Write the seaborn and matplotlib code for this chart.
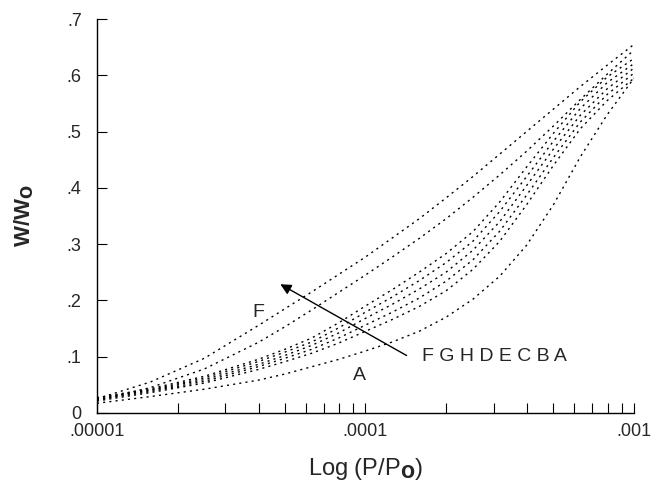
import numpy as np
import pandas as pd
import matplotlib
matplotlib.use('Agg')
import matplotlib.pyplot as plt
import seaborn as sns

# 数据, x 为 P/Po 的对数坐标
log_p = [-5.0, -4.8, -4.6, -4.4, -4.3, -4.2, -4.1, -4.0, -3.9,
         -3.8, -3.7, -3.6, -3.5, -3.4, -3.3, -3.2, -3.1, -3.0]
curve_F = [0.025, 0.055, 0.097, 0.155, 0.185, 0.215, 0.246, 0.277, 0.311,
           0.345, 0.382, 0.420, 0.460, 0.500, 0.540, 0.580, 0.618, 0.655]
curve_G = [0.022, 0.045, 0.078, 0.125, 0.153, 0.183, 0.214, 0.245, 0.277,
           0.310, 0.345, 0.383, 0.423, 0.465, 0.510, 0.557, 0.602, 0.645]
curve_H = [0.027, 0.043, 0.065, 0.095, 0.113, 0.133, 0.160, 0.190, 0.219,
           0.250, 0.283, 0.322, 0.375, 0.437, 0.497, 0.553, 0.597, 0.630]
curve_D = [0.026, 0.041, 0.062, 0.091, 0.108, 0.126, 0.151, 0.179, 0.206,
           0.235, 0.267, 0.305, 0.358, 0.420, 0.483, 0.541, 0.587, 0.621]
curve_E = [0.024, 0.040, 0.059, 0.086, 0.102, 0.120, 0.142, 0.168, 0.193,
           0.220, 0.250, 0.289, 0.340, 0.404, 0.469, 0.529, 0.576, 0.613]
curve_C = [0.023, 0.038, 0.056, 0.082, 0.097, 0.113, 0.133, 0.156, 0.179,
           0.204, 0.234, 0.272, 0.323, 0.387, 0.454, 0.517, 0.566, 0.604]
curve_B = [0.021, 0.036, 0.053, 0.077, 0.091, 0.106, 0.124, 0.145, 0.166,
           0.189, 0.217, 0.255, 0.305, 0.370, 0.440, 0.505, 0.555, 0.595]
curve_A = [0.017, 0.029, 0.042, 0.058, 0.069, 0.082, 0.095, 0.110, 0.126,
           0.145, 0.170, 0.202, 0.243, 0.298, 0.370, 0.455, 0.530, 0.595]
curve_names = ['F', 'G', 'H', 'D', 'E', 'C', 'B', 'A']
y_ticks = [0, 0.1, 0.2, 0.3, 0.4, 0.5, 0.6, 0.7]
y_tick_labels = ['0', '.1', '.2', '.3', '.4', '.5', '.6', '.7']
x_ticks = [1e-5, 1e-4, 1e-3]
x_tick_labels = ['.00001', '.0001', '.001']

sns.set_style('ticks')
plt.rcParams['font.family'] = ['Liberation Sans', 'DejaVu Sans']
plt.rcParams['mathtext.default'] = 'regular'

# 整理成长表
p_ratio = [10 ** v for v in log_p]
all_curves = [curve_F, curve_G, curve_H, curve_D, curve_E, curve_C, curve_B, curve_A]
df = pd.concat([pd.DataFrame({'p': p_ratio, 'w': vals, 'curve': name})
                for name, vals in zip(curve_names, all_curves)], ignore_index=True)

fig = plt.figure(figsize=(6.55, 4.88), dpi=100)
ax = fig.add_axes([0.148, 0.154, 0.82, 0.807])

for name in curve_names:
    sub = df[df['curve'] == name]
    sns.lineplot(x='p', y='w', data=sub, ax=ax, color='black', linewidth=1.0,
                 linestyle=(0, (1.5, 3)), label=None)

ax.set_xscale('log')
ax.set_xlim(1e-5, 1e-3)
ax.set_ylim(0, 0.7)
ax.set_yticks(y_ticks)
ax.set_yticklabels(y_tick_labels, fontsize=13)
ax.set_xticks(x_ticks)
ax.set_xticklabels(x_tick_labels, fontsize=13)
ax.tick_params(direction='in', which='both', length=7, width=0.8, color='black')
ax.tick_params(axis='x', which='major', pad=7)
ax.tick_params(axis='y', which='major', pad=11)

sns.despine(ax=ax)
ax.spines['left'].set_color('black')
ax.spines['bottom'].set_color('black')
ax.spines['left'].set_linewidth(1.0)
ax.spines['bottom'].set_linewidth(1.0)

ax.set_xlabel('Log (P/P$_\\mathbf{O}$)', fontsize=17, labelpad=12)
ax.set_ylabel('W/W$_\\mathbf{O}$', fontsize=16, fontweight='bold', labelpad=22)

# 标注
ax.text(3.98e-5, 0.179, 'F', fontsize=14, ha='center', va='center')
ax.text(9.46e-5, 0.067, 'A', fontsize=14, ha='center', va='center')
ax.text(1.62e-4, 0.0995, 'F G H D E C B A', fontsize=14, ha='left', va='center')
ax.annotate('', xy=(4.72e-5, 0.231), xytext=(1.452e-4, 0.0995),
            arrowprops=dict(arrowstyle='-|>', color='black', lw=1.0, mutation_scale=16))

fig.savefig('out.png', dpi=100)
